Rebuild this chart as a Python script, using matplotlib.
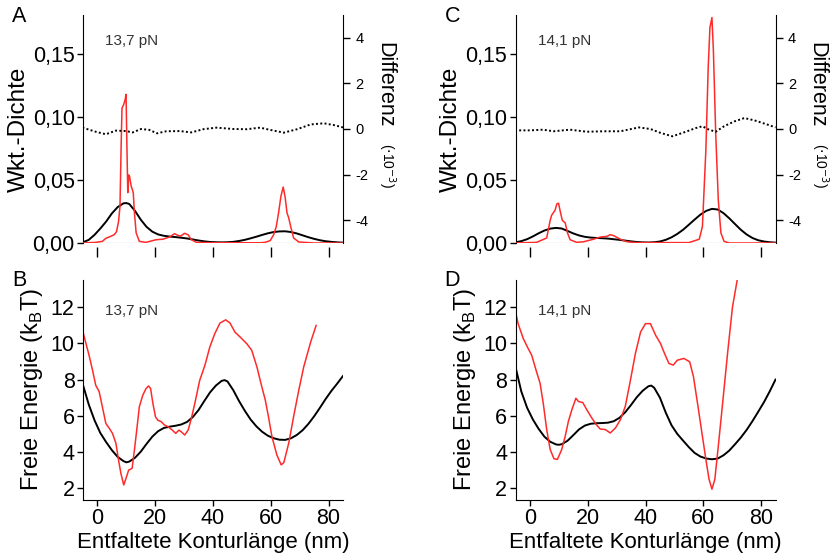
import matplotlib
matplotlib.use("Agg")
import matplotlib.pyplot as plt

plt.rcParams['font.family'] = ['Liberation Sans', 'DejaVu Sans']
plt.rcParams['axes.unicode_minus'] = False

# ---- Daten ----
# Panel A: 13,7 pN, Wkt.-Dichte
a_red_x = [-5.2, -0.6, 1.7, 2.9, 4.6, 5.8, 6.6, 7.3, 7.8, 8.2, 8.5, 9.1, 9.6, 9.9, 10.2, 10.5, 10.6,
           10.8, 11.1, 11.7, 12.4, 12.8, 13.4, 14.5, 16.8, 20.3, 22.6, 25.0, 26.7, 27.9, 28.8, 30.2,
           31.4, 32.5, 34.3, 40, 50, 56.3, 58.0, 59.8, 61.0, 61.9, 62.7, 63.5, 64.3, 65.0, 65.6, 66.2,
           67.0, 67.9, 69.7, 75, 85]
a_red_y = [0, 0.0005, 0.0013, 0.0037, 0.0053, 0.0066, 0.009, 0.017, 0.029, 0.077, 0.107, 0.110, 0.114,
           0.118, 0.077, 0.04, 0.041, 0.054, 0.053, 0.045, 0.040, 0.024, 0.008, 0.0013, 0.0005, 0.0026,
           0.003, 0.0048, 0.0074, 0.006, 0.0055, 0.0077, 0.0065, 0.0026, 0.0005, 0.0002, 0.0002, 0.0002,
           0.0005, 0.0019, 0.0066, 0.013, 0.024, 0.037, 0.0444, 0.036, 0.024, 0.020, 0.012, 0.004,
           0.0008, 0, 0]
a_blk_x = [-5, -3, -1, 1, 3, 5, 7, 9, 10, 11, 13, 15, 17, 19, 21, 23, 25, 27, 29, 31, 33, 35, 37,
           39, 41, 43, 45, 47, 49, 51, 53, 55, 57, 59, 61, 63, 65, 67, 69, 71, 73, 75, 77, 79, 81,
           83, 85]
a_blk_y = [0.0006, 0.0025, 0.0065, 0.0115, 0.017, 0.0235, 0.0285, 0.0315, 0.0317, 0.031, 0.0255,
           0.0185, 0.0128, 0.009, 0.0068, 0.0057, 0.0051, 0.0047, 0.0042, 0.0036, 0.0028, 0.002,
           0.0013, 0.0008, 0.0006, 0.0005, 0.0006, 0.0009, 0.0016, 0.0025, 0.0037, 0.005, 0.0064,
           0.0077, 0.0087, 0.0092, 0.0093, 0.0087, 0.0076, 0.0061, 0.0046, 0.0033, 0.0022, 0.0014,
           0.0009, 0.0005, 0.0003]
a_diff_x = [-5.2, -0.6, 2.9, 6.4, 9.9, 12.2, 15.1, 18.0, 20.6, 23.8, 28.5, 32.5, 36.6, 41.2, 47.0,
            51.7, 56.3, 59.8, 64.5, 69.1, 73.8, 78.4, 81.9, 85.0]
a_diff_y = [0.06, -0.12, -0.23, -0.07, -0.09, -0.15, 0.0, -0.04, -0.19, -0.1, -0.09, -0.15, -0.01,
            0.06, 0.0, -0.01, 0.06, -0.04, -0.16, -0.01, 0.2, 0.25, 0.17, 0.07]

# Panel C: 14,1 pN, Wkt.-Dichte
c_red_x = [-5.2, 2.3, 5.8, 7.0, 7.5, 8.7, 9.3, 9.9, 10.4, 11.2, 12.2, 13.0, 13.9, 16.2, 18.6, 22.0,
           24.3, 26.7, 27.8, 29.0, 31.3, 33.6, 37, 45, 55, 58.6, 59.7, 60.9, 61.7, 62.3, 63.0, 63.5,
           64.3, 65.2, 66.1, 67.2, 69, 85]
c_red_y = [0, 0.0005, 0.004, 0.018, 0.022, 0.026, 0.031, 0.0316, 0.026, 0.018, 0.016, 0.008, 0.0026,
           0.0005, 0.001, 0.003, 0.0047, 0.0053, 0.0066, 0.0058, 0.003, 0.001, 0.0003, 0.0003,
           0.0003, 0.003, 0.013, 0.074, 0.139, 0.171, 0.179, 0.153, 0.087, 0.034, 0.008, 0.0013, 0, 0]
c_blk_x = [-5, -3, -1, 1, 3, 5, 7, 9, 11, 13, 15, 17, 19, 21, 23, 25, 27, 29, 31, 33, 35, 37, 39,
           41, 43, 45, 47, 49, 51, 53, 55, 57, 59, 61, 63, 65, 67, 69, 71, 73, 75, 77, 79, 81, 83, 85]
c_blk_y = [0.0005, 0.0015, 0.003, 0.0052, 0.0077, 0.0099, 0.0114, 0.012, 0.0115, 0.0096, 0.0076,
           0.006, 0.0049, 0.0043, 0.004, 0.0038, 0.0035, 0.003, 0.0025, 0.0019, 0.0013, 0.0008,
           0.0005, 0.0004, 0.0006, 0.0012, 0.0025, 0.0045, 0.0072, 0.0105, 0.0145, 0.0186, 0.0225,
           0.0255, 0.0271, 0.0266, 0.0237, 0.0196, 0.015, 0.0105, 0.0068, 0.004, 0.0022, 0.0012,
           0.0006, 0.0003]
c_diff_x = [-5.2, 0.0, 4.6, 8.1, 13.9, 19.7, 25.5, 31.3, 37.7, 41.7, 45.2, 49.3, 53.3, 57.4, 59.7,
            62.0, 64.3, 67.2, 70.7, 74.2, 77.7, 82.3, 85.0]
c_diff_y = [-0.06, -0.06, -0.03, -0.1, -0.03, -0.12, -0.1, -0.1, 0.07, 0.0, -0.17, -0.32, -0.15,
            0.04, 0.12, -0.03, -0.12, 0.12, 0.33, 0.48, 0.38, 0.19, 0.07]

# Panel B: 13,7 pN, Freie Energie
b_red_x = [-5.0, -4.1, -2.9, -1.7, -0.6, 0.6, 1.7, 2.9, 4.1, 5.2, 6.4, 7.3, 8.1, 9.1, 9.9, 10.8,
           12.0, 12.8, 13.6, 14.5, 15.7, 16.8, 17.7, 18.4, 19.2, 20.1, 20.9, 22.1, 23.2, 24.4, 25.9,
           27.1, 28.2, 29.0, 30.2, 31.4, 32.5, 33.7, 35.4, 37.2, 38.9, 40.6, 42.4, 44.4, 45.9, 47.6,
           49.4, 51.7, 53.4, 55.2, 56.9, 58.1, 59.2, 60.4, 62.1, 63.6, 64.5, 66.2, 67.9, 69.7, 71.4,
           73.8, 75.7]
b_red_y = [10.62, 10.07, 9.34, 8.52, 7.69, 7.33, 6.5, 5.58, 5.31, 5.03, 4.48, 3.56, 2.83, 2.18, 2.55,
           3.0, 3.1, 4.11, 5.21, 6.5, 7.14, 7.5, 7.65, 7.5, 6.68, 5.94, 5.76, 5.67, 5.49, 5.4, 5.21,
           5.03, 5.21, 5.12, 4.94, 5.21, 5.85, 6.68, 7.96, 8.79, 9.8, 10.53, 11.12, 11.3, 11.12,
           10.62, 10.35, 9.98, 9.62, 8.7, 7.6, 6.87, 5.95, 4.85, 3.84, 3.29, 3.41, 4.48, 5.95, 7.42,
           8.7, 10.07, 10.99]
b_blk_x = [-5, -3, -1, 1, 3, 5, 7, 9, 10, 11, 13, 15, 17, 19, 21, 23, 25, 27, 29, 31, 33, 35, 37,
           39, 41, 43, 44, 45, 47, 49, 51, 53, 55, 57, 59, 61, 63, 65, 67, 69, 71, 73, 75, 77, 79,
           81, 83, 85]
b_blk_y = [7.7, 6.62, 5.75, 5.05, 4.55, 4.1, 3.73, 3.5, 3.43, 3.47, 3.68, 4.02, 4.45, 4.85, 5.15,
           5.33, 5.4, 5.45, 5.52, 5.66, 5.93, 6.32, 6.82, 7.3, 7.67, 7.93, 7.97, 7.9, 7.42, 6.82,
           6.28, 5.8, 5.42, 5.12, 4.9, 4.76, 4.68, 4.67, 4.76, 4.94, 5.2, 5.55, 5.97, 6.44, 6.93,
           7.38, 7.78, 8.2]

# Panel D: 14,1 pN, Freie Energie
d_red_x = [-5.2, -4.1, -2.3, -0.6, 0.6, 2.1, 3.5, 4.6, 5.8, 7.0, 8.3, 9.5, 11.0, 12.2, 13.3, 14.5,
           15.9, 16.8, 18.3, 19.7, 21.4, 23.0, 24.3, 26.1, 27.8, 29.6, 31.3, 33.0, 34.8, 36.5, 38.3,
           40.0, 41.7, 43.5, 45.2, 46.6, 48.1, 49.6, 51.0, 53.3, 55.3, 56.6, 58.0, 59.7, 60.9, 62.0,
           63.0, 64.0, 65.2, 66.7, 68.4, 70.1, 71.7]
d_red_y = [11.91, 11.09, 10.26, 9.71, 9.35, 8.53, 7.8, 6.7, 5.24, 4.14, 3.63, 3.59, 4.14, 4.87, 5.69,
           6.33, 6.97, 6.79, 6.73, 6.33, 5.88, 5.51, 5.27, 5.24, 5.05, 5.33, 5.78, 6.52, 7.98, 9.44,
           10.63, 11.09, 11.09, 10.45, 9.99, 9.44, 8.89, 8.8, 9.07, 9.17, 8.98, 8.16, 6.7, 4.87, 3.59,
           2.49, 1.95, 2.49, 4.32, 6.7, 9.44, 12.0, 13.46]
d_blk_x = [-5, -3, -1, 1, 3, 5, 7, 9, 10, 11, 13, 15, 17, 19, 21, 23, 25, 27, 29, 31, 33, 35, 37,
           39, 41, 42, 43, 45, 47, 49, 51, 53, 55, 57, 59, 61, 63, 65, 67, 69, 71, 73, 75, 77, 79,
           81, 83, 85]
d_blk_y = [8.7, 7.35, 6.45, 5.8, 5.28, 4.85, 4.57, 4.42, 4.4, 4.43, 4.62, 4.93, 5.25, 5.46, 5.56,
           5.59, 5.6, 5.62, 5.7, 5.89, 6.2, 6.6, 7.03, 7.38, 7.63, 7.67, 7.55, 7.0, 6.18, 5.48, 5.0,
           4.63, 4.27, 3.95, 3.75, 3.64, 3.6, 3.64, 3.82, 4.08, 4.43, 4.8, 5.22, 5.7, 6.22, 6.75,
           7.35, 8.0]

forces = ["13,7 pN", "14,1 pN"]
x_ticks = [0, 20, 40, 60, 80]

RED = "#ff2a2a"
fig = plt.figure(figsize=(8.35, 5.6), dpi=100)

col_left = [83 / 835, 515.5 / 835]
w = 260 / 835
top_box = (1 - 243 / 560, 228 / 560)
bot_box = (1 - 500 / 560, 220 / 560)

top_data = [(a_red_x, a_red_y, a_blk_x, a_blk_y, a_diff_x, a_diff_y),
            (c_red_x, c_red_y, c_blk_x, c_blk_y, c_diff_x, c_diff_y)]
bot_data = [(b_red_x, b_red_y, b_blk_x, b_blk_y),
            (d_red_x, d_red_y, d_blk_x, d_blk_y)]

for i in range(2):
    # obere Reihe: Wahrscheinlichkeitsdichte + Differenz
    ax = fig.add_axes([col_left[i], top_box[0], w, top_box[1]])
    rx, ry, bx, by, dx, dy = top_data[i]
    ax.plot(bx, by, color="black", lw=1.4, zorder=3)
    ax.plot(rx, ry, color=RED, lw=1.1, zorder=4)
    ax.axhline(0, color="#888888", lw=0.8, zorder=1)
    ax.set_xlim(-5, 85)
    ax.set_ylim(0, 0.181)
    ax.set_yticks([0, 0.05, 0.10, 0.15])
    ax.set_yticklabels(["0,00", "0,05", "0,10", "0,15"])
    ax.set_xticks(x_ticks)
    ax.set_xticklabels([])
    ax.spines["top"].set_visible(False)
    ax.spines["right"].set_visible(False)
    ax.spines["bottom"].set_position(("outward", 3))
    ax.spines["bottom"].set_color("none")
    ax.tick_params(axis="x", direction="out", length=7, width=1)
    ax.tick_params(axis="y", direction="out", length=4, width=1, labelsize=15.5, pad=2)
    ax.set_ylabel("Wkt.-Dichte", fontsize=17.5, labelpad=2)
    ax.text(0.085, 0.87, forces[i], transform=ax.transAxes, fontsize=11, color="#333333")

    ax2 = ax.twinx()
    ax2.plot(dx, dy, color="black", lw=1.4, linestyle=(0, (1, 1.2)))
    ax2.set_ylim(-5, 5)
    ax2.set_yticks([-4, -2, 0, 2, 4])
    ax2.spines["top"].set_visible(False)
    ax2.spines["bottom"].set_visible(False)
    ax2.spines["left"].set_visible(False)
    ax2.tick_params(axis="y", direction="out", length=5, width=1, labelsize=10.5, pad=4)
    ax2.text(1.16, 0.88, "Differenz", transform=ax.transAxes, rotation=-90,
             fontsize=15.5, ha="center", va="top")
    ax2.text(1.17, 0.44, r"($\cdot$10$^{-3}$)", transform=ax.transAxes, rotation=-90,
             fontsize=10, ha="center", va="top")

    fig.text(col_left[i] - 71 / 835, 1 - 16 / 560, "AC"[i], fontsize=15.5, va="center")

    # untere Reihe: Freie Energie
    axb = fig.add_axes([col_left[i], bot_box[0], w, bot_box[1]])
    rx, ry, bx, by = bot_data[i]
    axb.plot(bx, by, color="black", lw=1.4)
    axb.plot(rx, ry, color=RED, lw=1.1)
    axb.set_xlim(-5, 85)
    axb.set_ylim(1.35, 13.5)
    axb.set_yticks([2, 4, 6, 8, 10, 12])
    axb.set_xticks(x_ticks)
    axb.spines["top"].set_visible(False)
    axb.spines["right"].set_visible(False)
    axb.tick_params(direction="out", length=4, width=1, labelsize=15.5, pad=2)
    axb.set_ylabel(r"Freie Energie (k$_\mathregular{B}$T)", fontsize=17, labelpad=4)
    axb.set_xlabel("Entfaltete Konturlänge (nm)", fontsize=16, labelpad=2)
    axb.text(0.085, 0.84, forces[i], transform=axb.transAxes, fontsize=11, color="#333333")
    fig.text(col_left[i] - 71 / 835, 1 - 280 / 560, "BD"[i], fontsize=15.5, va="center")

plt.savefig("out.png", dpi=100)
